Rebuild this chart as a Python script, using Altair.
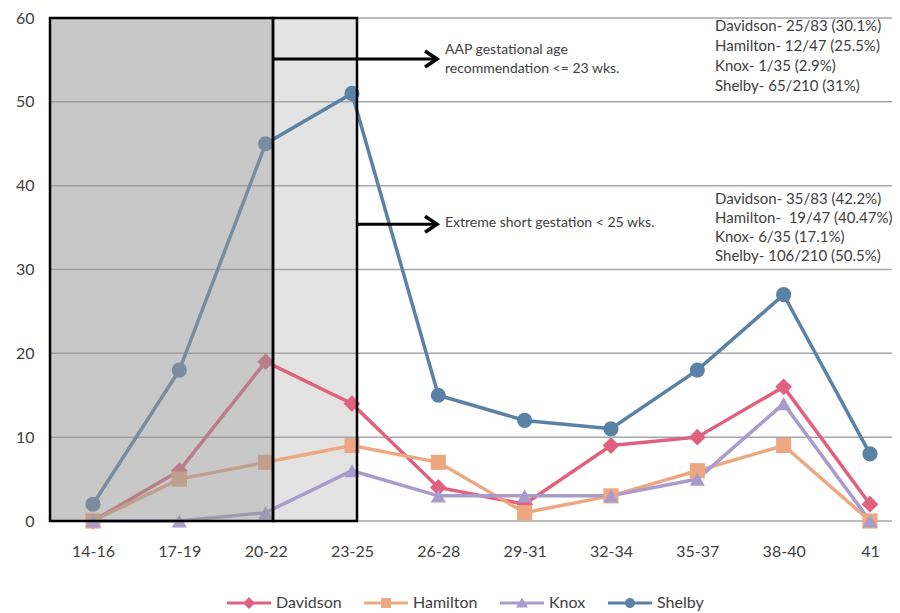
import json
import altair as alt
import pandas as pd

# ---------------- data ----------------
categories = ["14-16", "17-19", "20-22", "23-25", "26-28", "29-31", "32-34", "35-37", "38-40", "41"]
series_names = ["Davidson", "Hamilton", "Knox", "Shelby"]
davidson = [0, 6, 19, 14, 4, 2, 9, 10, 16, 2]
hamilton = [0, 5, 7, 9, 7, 1, 3, 6, 9, 0]
knox = [0, 0, 1, 6, 3, 3, 3, 5, 14, 0]
shelby = [2, 18, 45, 51, 15, 12, 11, 18, 27, 8]
y_ticks = [0, 10, 20, 30, 40, 50, 60]

aap_lines = ["AAP gestational age", "recommendation <= 23 wks."]
aap_y = [56.2, 53.9]
extreme_lines = ["Extreme short gestation < 25 wks."]
extreme_y = [35.5]
block1_lines = ["Davidson- 25/83 (30.1%)", "Hamilton- 12/47 (25.5%)", "Knox- 1/35 (2.9%)", "Shelby- 65/210 (31%)"]
block1_y = [59.1, 56.7, 54.3, 51.9]
block2_lines = ["Davidson- 35/83 (42.2%)", "Hamilton- \u00a019/47 (40.47%)", "Knox- 6/35 (17.1%)", "Shelby- 106/210 (50.5%)"]
block2_y = [38.4, 36.15, 33.9, 31.65]

# region boundaries (in category-index units) and arrows
x_domain = [-0.498, 9.255]
dark_box = [x_domain[0], 2.085]
light_box = [2.085, 3.058]
arrow_start = [2.085, 3.058]
arrow_end = 3.985
arrow_y = [55.1, 35.4]
text_x = 4.077
block_x = 7.205

# ---------------- styles ----------------
colors = ["#E0607F", "#EDA882", "#A99CCD", "#5A82A6"]
marker_shapes = ["diamond", "square", "triangle-up", "circle"]
marker_sizes = [280, 230, 230, 230]
legend_paths = [
    "M-2.2,-0.15H2.2V0.15H-2.2Z M0,-0.6L0.6,0L0,0.6L-0.6,0Z",
    "M-2.2,-0.15H2.2V0.15H-2.2Z M-0.5,-0.5H0.5V0.5H-0.5Z",
    "M-2.2,-0.15H2.2V0.15H-2.2Z M0,-0.55L0.6,0.45H-0.6Z",
    "M-2.2,-0.15H2.2V0.15H-2.2Z M-0.5,0A0.5,0.5 0 1,1 0.5,0A0.5,0.5 0 1,1 -0.5,0Z",
]
chevron = "M-1.5,-1L0,0L-1.5,1"
FONT = "Lato"
TXT = "#404040"
W, H = 842, 503

rows = []
for name, vals in zip(series_names, [davidson, hamilton, knox, shelby]):
    for i, v in enumerate(vals):
        rows.append({"series": name, "x": i, "y": v})
df = pd.DataFrame(rows)

label_expr = json.dumps(categories) + "[datum.value]"
x_axis = alt.Axis(values=list(range(len(categories))), labelExpr=label_expr, grid=False,
                  domain=False, ticks=False, tickSize=0, labelPadding=22, labelFontSize=16,
                  labelColor=TXT, labelFont=FONT, title=None)
y_axis = alt.Axis(values=y_ticks, grid=False, domain=False, ticks=False, tickSize=0,
                  labelPadding=16, labelFontSize=16, labelColor=TXT, labelFont=FONT, title=None)
x_scale = alt.Scale(domain=x_domain, nice=False, zero=False)
y_scale = alt.Scale(domain=[0, 60], nice=False, zero=True)


def X(f="x"):
    return alt.X(f + ":Q", scale=x_scale, axis=x_axis)


def Y(f="y"):
    return alt.Y(f + ":Q", scale=y_scale, axis=y_axis)


color_scale = alt.Scale(domain=series_names, range=colors)

# legend-only layer (draws no marks; entries come from the explicit scale domains)
leg = dict(title=None, orient="none", legendX=177, legendY=575, direction="horizontal",
           symbolSize=400, symbolOffset=12, labelOffset=17, columnPadding=22, padding=0,
           symbolStrokeWidth=0, labelFontSize=16, labelColor=TXT, labelFont=FONT)
legend_layer = alt.Chart(df).transform_filter("false").mark_point(filled=True, opacity=1).encode(
    x=X(), y=Y(),
    color=alt.Color("series:N", scale=color_scale, legend=alt.Legend(**leg)),
    shape=alt.Shape("series:N", scale=alt.Scale(domain=series_names, range=legend_paths),
                    legend=alt.Legend(**leg)),
)

light = alt.Chart(pd.DataFrame({"x": [light_box[0]], "x2": [light_box[1]], "y": [0], "y2": [60]})).mark_rect(
    color="#E3E3E3").encode(x=X(), x2="x2", y=Y(), y2="y2")

grid = alt.Chart(pd.DataFrame({"y": y_ticks})).mark_rule(color="#A6A6A6", strokeWidth=1.5).encode(
    y=Y(), x=alt.value(0), x2=alt.value(W))

lines = alt.Chart(df).mark_line(strokeWidth=3.5).encode(
    x=X(), y=Y(), color=alt.Color("series:N", scale=color_scale, legend=None),
    detail="series:N")

point_layers = []
for name, shp, sz in zip(series_names, marker_shapes, marker_sizes):
    point_layers.append(
        alt.Chart(df).transform_filter(alt.datum.series == name).mark_point(
            shape=shp, filled=True, size=sz, opacity=1).encode(
            x=X(), y=Y(), color=alt.Color("series:N", scale=color_scale, legend=None)))

dark = alt.Chart(pd.DataFrame({"x": [dark_box[0]], "x2": [dark_box[1]], "y": [0], "y2": [60]})).mark_rect(
    color="#989898", opacity=0.53).encode(x=X(), x2="x2", y=Y(), y2="y2")

borders = alt.Chart(pd.DataFrame({"x": [dark_box[0], light_box[0]], "x2": [dark_box[1], light_box[1]],
                                  "y": [0, 0], "y2": [60, 60]})).mark_rect(
    fillOpacity=0, stroke="black", strokeWidth=2.5).encode(x=X(), x2="x2", y=Y(), y2="y2")

arrow_df = pd.DataFrame({"x": arrow_start, "x2": [arrow_end] * len(arrow_start), "y": arrow_y})
arrows = alt.Chart(arrow_df).mark_rule(color="black", strokeWidth=3).encode(x=X(), x2="x2", y=Y())
heads = alt.Chart(arrow_df).mark_point(shape=chevron, filled=False, color="black", strokeWidth=3.5,
                                       size=256, opacity=1, strokeJoin="miter").encode(x=X("x2"), y=Y())

ann_rows = []
for t, yy in zip(aap_lines, aap_y):
    ann_rows.append({"x": text_x, "y": yy, "label": t, "size": 14})
for t, yy in zip(extreme_lines, extreme_y):
    ann_rows.append({"x": text_x, "y": yy, "label": t, "size": 14})
for t, yy in zip(block1_lines, block1_y):
    ann_rows.append({"x": block_x, "y": yy, "label": t, "size": 15})
for t, yy in zip(block2_lines, block2_y):
    ann_rows.append({"x": block_x, "y": yy, "label": t, "size": 15})
texts = alt.Chart(pd.DataFrame(ann_rows)).mark_text(
    align="left", baseline="middle", font=FONT, color=TXT).encode(
    x=X(), y=Y(), text="label:N", size=alt.Size("size:Q", scale=None, legend=None))

chart = alt.layer(legend_layer, light, grid, lines, *point_layers, dark, borders, arrows, heads,
                  texts).properties(
    width=W, height=H,
    padding={"left": 42, "top": 10, "right": 0, "bottom": 90},
    autosize=alt.AutoSizeParams(type="none"),
).configure_view(strokeWidth=0)

chart.save("out.html", embed_options={"renderer": "svg", "actions": False})
